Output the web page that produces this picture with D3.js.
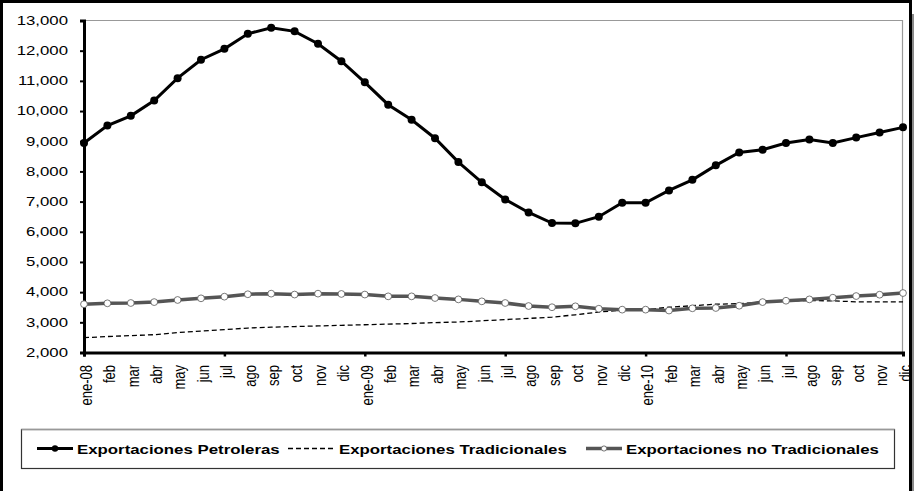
<!DOCTYPE html>
<html>
<head>
<meta charset="utf-8">
<script src="https://cdn.jsdelivr.net/npm/d3@7/dist/d3.min.js"></script>
<style>
  html, body { margin: 0; padding: 0; background: #fff; }
  svg { display: block; }
  text { font-family: "Liberation Sans", Arial, sans-serif; fill: #000; }
</style>
</head>
<body>
<svg id="chart" width="914" height="491"></svg>
<script>
// ---- Data ----
const categories = ["ene-08","feb","mar","abr","may","jun","jul","ago","sep","oct","nov","dic",
                    "ene-09","feb","mar","abr","may","jun","jul","ago","sep","oct","nov","dic",
                    "ene-10","feb","mar","abr","may","jun","jul","ago","sep","oct","nov","dic"];
const petroleras = [8940,9520,9840,10350,11090,11700,12060,12560,12760,12640,12230,11650,
                    10950,10210,9710,9100,8310,7640,7070,6640,6290,6280,6500,6960,
                    6960,7370,7720,8200,8630,8720,8940,9060,8940,9120,9290,9460];
const tradicionales = [2490,2530,2560,2590,2660,2710,2760,2810,2840,2860,2880,2900,
                       2920,2940,2960,2990,3010,3050,3090,3130,3170,3250,3340,3400,
                       3420,3500,3550,3600,3620,3670,3710,3720,3710,3680,3680,3680];
const noTradicionales = [3600,3630,3640,3670,3740,3795,3850,3930,3950,3920,3950,3940,
                         3920,3860,3860,3805,3760,3695,3640,3540,3500,3530,3450,3420,
                         3420,3390,3465,3475,3550,3670,3715,3760,3815,3870,3915,3970];
const yTicks = [2000,3000,4000,5000,6000,7000,8000,9000,10000,11000,12000,13000];
const seriesNames = ["Exportaciones Petroleras","Exportaciones Tradicionales","Exportaciones no Tradicionales"];

// ---- Layout ----
const svg = d3.select("#chart");
const pLeft = 84, pRight = 903, pTop = 20.5, pBottom = 352.5;

const x = d3.scalePoint().domain(d3.range(categories.length)).range([pLeft, pRight]).padding(0);
const y = d3.scaleLinear().domain([2000, 13000]).range([pBottom, pTop]);

// outer frame + shadow
svg.append("rect").attr("x", 911).attr("y", 14).attr("width", 3).attr("height", 480).attr("fill", "#8a8a8a");
svg.append("rect").attr("x", 1.5).attr("y", 1.5).attr("width", 909).attr("height", 500)
  .attr("fill", "none").attr("stroke", "#000").attr("stroke-width", 3);

// plot area border (gray top/right)
svg.append("path").attr("d", `M${pLeft},${pTop}H${pRight - 0.5}V${pBottom}`)
  .attr("fill", "none").attr("stroke", "#999").attr("stroke-width", 1.2);

// Y axis
const yAxis = d3.axisLeft(y).tickValues(yTicks).tickSize(4).tickFormat("");
const gy = svg.append("g").attr("transform", `translate(${pLeft},0)`).call(yAxis);
gy.select(".domain").attr("stroke", "#000").attr("stroke-width", 3);
gy.selectAll(".tick line").attr("stroke", "#000").attr("stroke-width", 2);

const fmt = d3.format(",");
svg.append("g").selectAll("text").data(yTicks).join("text")
  .attr("transform", d => `translate(68,${y(d)}) scale(1.4,1)`)
  .attr("text-anchor", "end").attr("dy", "0.36em")
  .attr("font-size", "12px")
  .text(d => fmt(d));

// X axis
const xAxis = d3.axisBottom(x).tickValues(d3.range(0, categories.length, 6)).tickSize(4).tickFormat("");
const gx = svg.append("g").attr("transform", `translate(0,${pBottom})`).call(xAxis);
gx.select(".domain").attr("stroke", "#000").attr("stroke-width", 3);
gx.selectAll(".tick line").attr("stroke", "#000").attr("stroke-width", 2.5);

svg.append("g").selectAll("text").data(categories).join("text")
  .attr("transform", (d, i) => `translate(${x(i)},365) scale(1.2,1) rotate(-90)`)
  .attr("text-anchor", "end").attr("dy", "0.5em")
  .attr("font-size", "13px")
  .text(d => d);

// Series
const line = d3.line().x((d, i) => x(i)).y(d => y(d));

svg.append("path").datum(petroleras).attr("d", line)
  .attr("fill", "none").attr("stroke", "#000").attr("stroke-width", 3);
svg.append("g").selectAll("circle").data(petroleras).join("circle")
  .attr("cx", (d, i) => x(i)).attr("cy", d => y(d)).attr("r", 4).attr("fill", "#000");

svg.append("path").datum(tradicionales).attr("d", line)
  .attr("fill", "none").attr("stroke", "#000").attr("stroke-width", 1.3).attr("stroke-dasharray", "5,3");

svg.append("path").datum(noTradicionales).attr("d", line)
  .attr("fill", "none").attr("stroke", "#555").attr("stroke-width", 3.5);
svg.append("g").selectAll("circle").data(noTradicionales).join("circle")
  .attr("cx", (d, i) => x(i)).attr("cy", d => y(d)).attr("r", 3.4)
  .attr("fill", "#fff").attr("stroke", "#555").attr("stroke-width", 0.8);

// Legend
svg.append("rect").attr("x", 21.5).attr("y", 429.5).attr("width", 873).attr("height", 39)
  .attr("fill", "#fff").attr("stroke", "#333").attr("stroke-width", 1.2);
svg.append("line").attr("x1", 21.5).attr("x2", 894.5).attr("y1", 429.5).attr("y2", 429.5)
  .attr("stroke", "#999").attr("stroke-width", 1.5);

const ly = 448.5;
const legendItems = [
  {name: seriesNames[0], lx0: 37, lx1: 73, tx: 77, tw: 203, type: "petro"},
  {name: seriesNames[1], lx0: 288, lx1: 335, tx: 339, tw: 228, type: "trad"},
  {name: seriesNames[2], lx0: 586, lx1: 622, tx: 626, tw: 253, type: "notrad"}
];
legendItems.forEach(it => {
  const g = svg.append("g");
  if (it.type === "petro") {
    g.append("line").attr("x1", it.lx0).attr("x2", it.lx1).attr("y1", ly).attr("y2", ly)
      .attr("stroke", "#000").attr("stroke-width", 3);
    g.append("circle").attr("cx", (it.lx0 + it.lx1) / 2).attr("cy", ly).attr("r", 3.2).attr("fill", "#000");
  } else if (it.type === "trad") {
    g.append("line").attr("x1", it.lx0).attr("x2", it.lx1).attr("y1", ly).attr("y2", ly)
      .attr("stroke", "#000").attr("stroke-width", 1.3).attr("stroke-dasharray", "5,3");
  } else {
    g.append("line").attr("x1", it.lx0).attr("x2", it.lx1).attr("y1", ly).attr("y2", ly)
      .attr("stroke", "#555").attr("stroke-width", 3.5);
    g.append("circle").attr("cx", (it.lx0 + it.lx1) / 2).attr("cy", ly).attr("r", 2.6)
      .attr("fill", "#fff").attr("stroke", "#555").attr("stroke-width", 0.8);
  }
  const t = g.append("text").attr("font-size", "13px").attr("font-weight", "bold")
    .attr("text-anchor", "start").attr("dy", "0.36em").text(it.name);
  const nat = t.node().getComputedTextLength();
  const sx = it.tw / nat;
  t.attr("transform", `translate(${it.tx},${ly + 1}) scale(${sx},1)`);
});
</script>
</body>
</html>
